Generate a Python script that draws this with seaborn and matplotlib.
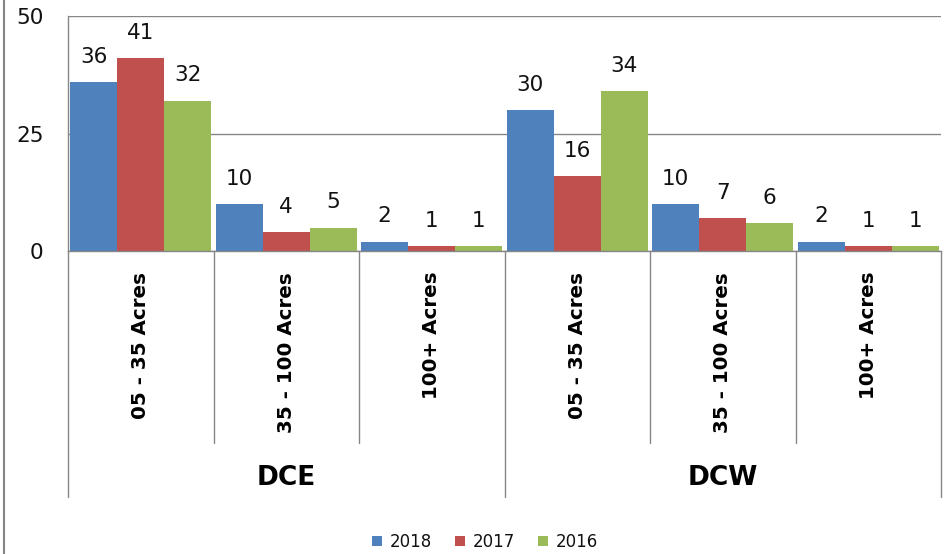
import matplotlib
matplotlib.use("Agg")
import matplotlib.pyplot as plt
import matplotlib.lines as mlines
import seaborn as sns
import pandas as pd

# ---- data ----
groups = ["DCE", "DCE", "DCE", "DCW", "DCW", "DCW"]
sizes = ["05 - 35 Acres", "35 - 100 Acres", "100+ Acres",
         "05 - 35 Acres", "35 - 100 Acres", "100+ Acres"]
years = ["2018", "2017", "2016"]
v2018 = [36, 10, 2, 30, 10, 2]
v2017 = [41, 4, 1, 16, 7, 1]
v2016 = [32, 5, 1, 34, 6, 1]
y_ticks = [0, 25, 50]

colors = {"2018": "#4F81BD", "2017": "#C0504D", "2016": "#9BBB59"}
gray = "#868686"
txt = "#000000"

keys = [g + "|" + s for g, s in zip(groups, sizes)]
rows = []
for yr, vals in zip(years, [v2018, v2017, v2016]):
    for k, v in zip(keys, vals):
        rows.append({"cat": k, "year": yr, "value": v})
df = pd.DataFrame(rows)

sns.set_style("white")
plt.rcParams["font.family"] = ["DejaVu Sans"]
plt.rcParams["text.color"] = txt
plt.rcParams["xtick.color"] = txt
plt.rcParams["ytick.color"] = txt

fig = plt.figure(figsize=(9.51, 5.54), dpi=100)
ax = fig.add_axes([68 / 951, 1 - 251 / 554, (941 - 68) / 951, (251 - 16) / 554])

sns.barplot(data=df, x="cat", y="value", hue="year", order=keys,
            hue_order=years, palette=colors, width=0.97, saturation=1,
            linewidth=0, ax=ax, errorbar=None)

for cont in ax.containers:
    ax.bar_label(cont, fmt="%d", padding=11, fontsize=15.5, color="#111111")

ax.set_ylim(0, 50)
ax.set_xlim(-0.5, len(keys) - 0.5)
ax.set_yticks(y_ticks)
ax.set_yticklabels([str(t) for t in y_ticks], fontsize=15.5, color="#111111")
ax.tick_params(axis="y", length=6.5, width=1, color=gray, pad=11)
ax.yaxis.grid(True, color=gray, lw=1)
ax.set_axisbelow(True)

ax.set_xticks(range(len(keys)))
ax.set_xticklabels(sizes, rotation=90, fontsize=14.3, fontweight="bold",
                   va="top", ha="center", color=txt)
ax.tick_params(axis="x", length=0, pad=15)
ax.set_xlabel("")
ax.set_ylabel("")

for side in ["top", "right"]:
    ax.spines[side].set_visible(False)
for side in ["left", "bottom"]:
    ax.spines[side].set_color(gray)
    ax.spines[side].set_linewidth(1)

# multi-level category separators
tr = ax.get_xaxis_transform()
h = 235.0
short_y = (251 - 443) / h
long_y = (251 - 497) / h
for k in range(len(keys) + 1):
    x = k - 0.5
    is_group = k == 0 or k == len(keys) or groups[k] != groups[k - 1]
    ax.plot([x, x], [0, long_y if is_group else short_y], transform=tr,
            color=gray, lw=1, clip_on=False)

# group labels
seen = []
for g in groups:
    if g not in seen:
        seen.append(g)
for g in seen:
    idx = [i for i, gg in enumerate(groups) if gg == g]
    xc = sum(idx) / len(idx)
    ax.text(xc, (251 - 478) / h, g, transform=tr, ha="center", va="center",
            fontsize=19, fontweight="bold", color=txt)

# legend
handles, labels = ax.get_legend_handles_labels()
if ax.get_legend() is not None:
    ax.get_legend().remove()
fig.legend(handles, labels, loc="center", bbox_to_anchor=(485 / 951, 1 - 542 / 554),
           ncol=3, frameon=False, fontsize=12, handlelength=0.6, handleheight=0.6,
           handletextpad=0.45, columnspacing=1.4, borderaxespad=0,
           labelcolor="#111111")

# chart-area left border
fig.add_artist(mlines.Line2D([3.5 / 951, 3.5 / 951], [0, 1], color=gray, lw=1.5,
                             transform=fig.transFigure))

fig.savefig("out.png", dpi=100)
